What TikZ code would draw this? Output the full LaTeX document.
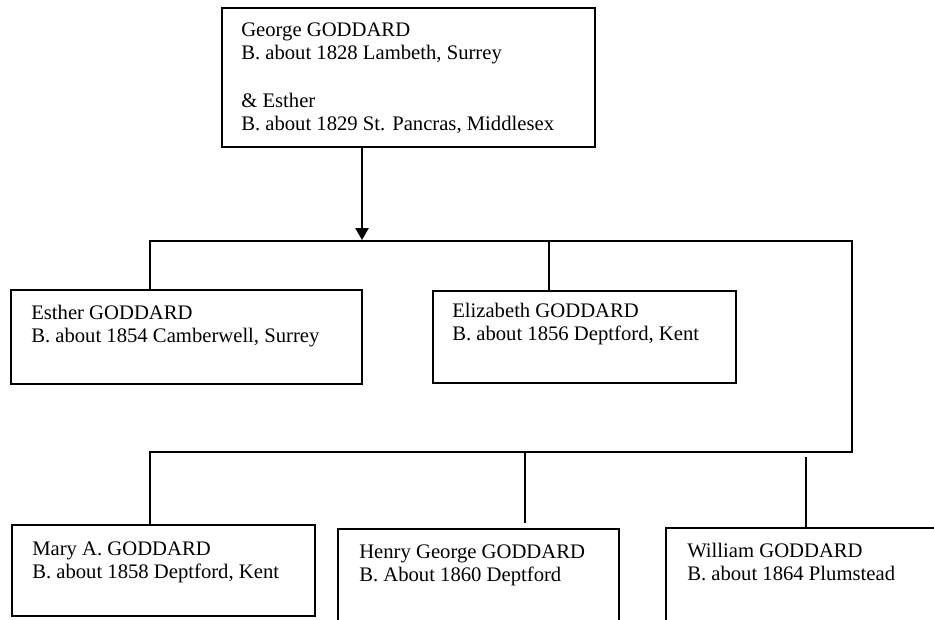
\documentclass[tikz,border=0pt]{standalone}
\usepackage{fontspec}
\setmainfont{Liberation Serif}
\usetikzlibrary{arrows.meta,fit}
\begin{document}
\begin{tikzpicture}[x=0.75pt,y=-0.75pt,
  box/.style={draw, line width=1.1pt, rectangle, inner sep=0pt},
  txt/.style={anchor=base west, inner sep=0pt, font=\fontsize{15.5pt}{17.8pt}\selectfont},
  link/.style={line width=1.1pt}]
\useasboundingbox (0,0) rectangle (934,619);
\clip (0,0) rectangle (934,619);
% boxes
\node[box, fit={(222,8) (595,147)}] (top) {};
\node[box, fit={(11,290) (362,384)}] (esther) {};
\node[box, fit={(433,291) (736,383)}] (eliz) {};
\node[box, fit={(12,525) (315,616)}] (mary) {};
\node[box, fit={(338,529) (619,622)}] (henry) {};
\node[box, fit={(666,528) (960,622)}] (will) {};
% texts
\node[txt] (toptxt) at (241,36) {\begin{tabular}[t]{@{}l@{}}George GODDARD\\B. about 1828 Lambeth, Surrey\\ \\ \& Esther\\B. about 1829 St. Pancras, Middlesex\end{tabular}};
\node[txt] (esthertxt) at (31,319) {\begin{tabular}[t]{@{}l@{}}Esther GODDARD\\B. about 1854 Camberwell, Surrey\end{tabular}};
\node[txt] (eliztxt) at (452,317) {\begin{tabular}[t]{@{}l@{}}Elizabeth GODDARD\\B. about 1856 Deptford, Kent\end{tabular}};
\node[txt] (marytxt) at (32,555) {\begin{tabular}[t]{@{}l@{}}Mary A. GODDARD\\B. about 1858 Deptford, Kent\end{tabular}};
\node[txt] (henrytxt) at (359,558) {\begin{tabular}[t]{@{}l@{}}Henry George GODDARD\\B. About 1860 Deptford\end{tabular}};
\node[txt] (willtxt) at (687,557) {\begin{tabular}[t]{@{}l@{}}William GODDARD\\B. about 1864 Plumstead\end{tabular}};
% junctions
\coordinate (b1l) at (150,241);
\coordinate (b1r) at (852,241);
\coordinate (b1a) at (362,240);
\coordinate (b1e) at (549,241);
\coordinate (b2l) at (150,452);
\coordinate (b2r) at (852,452);
\coordinate (b2h) at (525,452);
\coordinate (hend) at (525,523);
\coordinate (wtop) at (806,457);
% connectors
\draw[link,-{Triangle[width=10pt,length=9pt]}] (b1a |- top.south) -- (b1a);
\draw[link] (b1l |- esther.north) -- (b1l) -- (b1r) -- (b2r) -- (b2l) -- (b2l |- mary.north);
\draw[link] (b1e) -- (b1e |- eliz.north);
\draw[link] (b2h) -- (hend);
\draw[link] (wtop) -- (wtop |- will.north);
\end{tikzpicture}
\end{document}
